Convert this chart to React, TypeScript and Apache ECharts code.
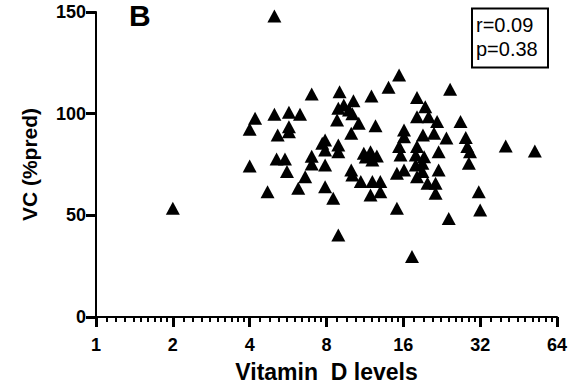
import React, { useEffect, useRef } from "react";
import * as echarts from "echarts";

const vitaminD: number[] = [
  5.0, 2.0, 7.0, 4.2, 4.0, 5.0, 5.7, 6.3, 5.7, 5.7, 5.15, 4.0, 5.1, 5.5, 7.0, 7.0, 7.9, 7.9, 7.9,
  9.0, 8.9, 9.35, 8.8, 9.8, 10.2, 10.1, 10.7, 10.0, 8.9, 8.9, 12.0, 12.45, 14.0, 15.4, 24.4, 18.1,
  19.5, 18.1, 20.1, 21.7, 16.1, 16.1, 19.1, 21.1, 23.6, 26.8, 28.1, 28.5, 29.2, 40.3, 52.4, 7.7,
  11.2, 11.9, 12.6, 12.1, 15.4, 15.6, 18.1, 17.9, 19.3, 19.0, 22.0, 28.9, 10.0, 10.1, 10.9, 12.1,
  13.0, 11.9, 13.0, 7.9, 8.5, 8.9, 15.1, 16.1, 18.1, 19.0, 22.0, 19.9, 21.4, 21.4, 15.1, 24.1,
  17.3, 31.6, 32.0, 4.7, 5.6, 6.2, 6.6, 11.4, 17.9,
];
const vcPred: number[] = [
  148, 53.5, 109.7, 97.7, 92.3, 99.7, 100.7, 99.7, 93.6, 91.1, 89.5, 74.3, 77.7, 77.7, 79, 75.3, 87.1, 82.1, 74.8,
  110.8, 102.7, 104.3, 96.9, 101.8, 106.4, 99.9, 95.3, 90.4, 84.6, 81.3, 108.7, 94, 113, 119, 112, 108,
  103.4, 98.5, 98.5, 96.1, 92, 88.7, 89.5, 90.4, 88, 96.1, 88.3, 83.8, 81.3, 84.1, 81.7, 85.4,
  80.5, 81.3, 79.2, 77.2, 83.8, 79.7, 83.8, 79.7, 78.8, 75.6, 81.3, 75.6, 72.3, 69.8, 66.6, 66.6,
  66.6, 60, 61.6, 64.1, 58.4, 40.3, 70.7, 72.3, 69, 71.5, 72.3, 65.8, 65.8, 60.8, 53.5, 48.5,
  29.7, 61.6, 52.6, 61.6, 71.5, 63.3, 69, 78.7, 74.8,
];
const statLines: string[] = ["r=0.09", "p=0.38"];
const panelLabel = "B";
const xTitle = "Vitamin  D levels";
const yTitle = "VC (%pred)";

export default function App() {
  const ref = useRef<HTMLDivElement>(null);
  useEffect(() => {
    if (!ref.current) return;
    const chart = echarts.init(ref.current, null, { renderer: "svg" });
    const font = "'Liberation Sans', Arial, sans-serif";
    chart.setOption({
      animation: false,
      backgroundColor: "#fff",
      grid: { left: 96, right: 14, top: 12, bottom: 73 },
      xAxis: {
        type: "log",
        logBase: 2,
        min: 1,
        max: 64,
        name: xTitle,
        nameLocation: "middle",
        nameGap: 43,
        nameTextStyle: { fontFamily: font, fontWeight: "bold", fontSize: 23, color: "#000" },
        axisLine: { show: true, lineStyle: { color: "#000", width: 2 } },
        axisTick: { show: true, length: 10, lineStyle: { color: "#000", width: 3 } },
        minorTick: { show: true, splitNumber: 10, length: 5, lineStyle: { color: "#000", width: 2 } },
        axisLabel: { fontFamily: font, fontWeight: "bold", fontSize: 18, color: "#000", margin: 19 },
        splitLine: { show: false },
        minorSplitLine: { show: false },
      },
      yAxis: {
        type: "value",
        min: 0,
        max: 150,
        interval: 50,
        name: yTitle,
        nameLocation: "middle",
        nameGap: 56,
        nameTextStyle: { fontFamily: font, fontWeight: "bold", fontSize: 21, color: "#000" },
        axisLine: { show: true, lineStyle: { color: "#000", width: 2 } },
        axisTick: { show: true, length: 10, lineStyle: { color: "#000", width: 3 } },
        axisLabel: { fontFamily: font, fontWeight: "bold", fontSize: 18, color: "#000", margin: 10 },
        splitLine: { show: false },
      },
      series: [
        {
          type: "scatter",
          symbol: "triangle",
          symbolSize: [14, 13],
          itemStyle: { color: "#000", opacity: 1 },
          data: vitaminD.map((x, i) => [x, vcPred[i]]),
        },
      ],
      graphic: [
        {
          type: "text",
          left: 129,
          top: 0,
          style: { text: panelLabel, fontFamily: font, fontWeight: "bold", fontSize: 30, fill: "#000" },
        },
        {
          type: "rect",
          shape: { x: 472, y: 8.5, width: 76, height: 59 },
          style: { fill: "#fff", stroke: "#000", lineWidth: 2 },
        },
        {
          type: "text",
          left: 476,
          top: 13,
          style: {
            text: statLines.join("\n"),
            fontFamily: font,
            fontSize: 20,
            lineHeight: 24,
            fill: "#000",
          },
        },
      ],
    });
    return () => chart.dispose();
  }, []);
  return <div ref={ref} style={{ width: 571, height: 390, position: "absolute", left: 0, top: 0 }} />;
}
